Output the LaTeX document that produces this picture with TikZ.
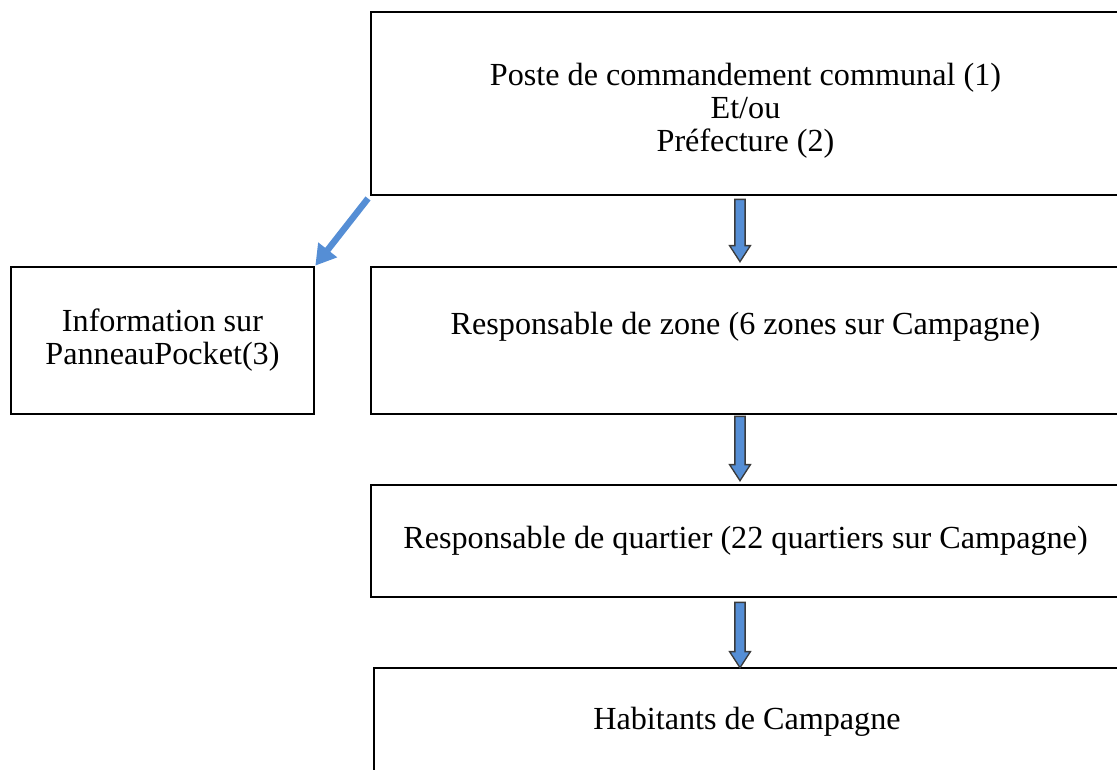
\documentclass[tikz,border=0pt]{standalone}
\usepackage{fontspec}
\setmainfont{Liberation Serif}
\usepackage{xcolor}
\definecolor{arrowblue}{HTML}{558ED5}
\definecolor{arrowedge}{HTML}{3A3A3A}
\usepackage{tikz}
\usetikzlibrary{
    arrows.meta,
    calc,
}
\newcommand{\pxu}{0.373pt}

\begin{document}
\begin{tikzpicture}[%
    x=\pxu,
    y=-\pxu,
    every node/.style={
        font=\fontsize{12}{12.3}\selectfont,
        align=center,
        inner sep=0,
    },
    box/.style={
        rectangle,
        draw=black,
        line width=1pt,
    },
    blockarrow/.style={
        fill=arrowblue,
        draw=arrowedge,
        line width=0.5pt,
        to path={
            let \p1=(\tikztostart), \p2=(\tikztotarget) in
            (\x1-1.9pt,\y1) -- (\x1+1.9pt,\y1) -- (\x1+1.9pt,\y2+6pt)
            -- (\x1+3.9pt,\y2+6pt) -- (\x2,\y2) -- (\x1-3.9pt,\y2+6pt)
            -- (\x1-1.9pt,\y2+6pt) -- cycle
        }
    },
    infoarrow/.style={
        draw=arrowblue,
        line width=2.4pt,
        shorten <=1pt,
        -{Triangle[width=8.5pt,length=7.5pt]}
    }
]

\useasboundingbox (0, 0) rectangle (1117, 769);
\clip (0, 0) rectangle (1117, 769);

% boxes
\node [box, minimum width=749*\pxu, minimum height=183*\pxu] (pcc) at (745.5, 103.5)
    {\rule{0pt}{13.5pt}Poste de commandement communal (1)\\Et/ou\\Préfecture (2)};
\node [box, minimum width=303*\pxu, minimum height=147*\pxu] (info) at (162.5, 340.5)
    {Information sur\\PanneauPocket(3)};
\node [box, minimum width=749*\pxu, minimum height=147*\pxu, text depth=13pt] (zone) at (745.5, 340.5)
    {Responsable de zone (6 zones sur Campagne)};
\node [box, minimum width=749*\pxu, minimum height=112*\pxu] (quartier) at (745.5, 541)
    {Responsable de quartier (22 quartiers sur Campagne)};
\node [box, minimum width=746*\pxu, minimum height=108*\pxu] (habitants) at (747, 722)
    {Habitants de Campagne};

% arrows
\coordinate (ax) at (740, 0);
\path [blockarrow] ($(ax |- pcc.south)+(0,3)$) to ($(ax |- zone.north)+(0,-4)$);
\path [blockarrow] ($(ax |- zone.south)+(0,1)$) to ($(ax |- quartier.north)+(0,-3)$);
\path [blockarrow] ($(ax |- quartier.south)+(0,4)$) to ($(ax |- habitants.north)+(0,1)$);
\draw [infoarrow] (pcc.south west) -- (info.north east);

\end{tikzpicture}
\end{document}
